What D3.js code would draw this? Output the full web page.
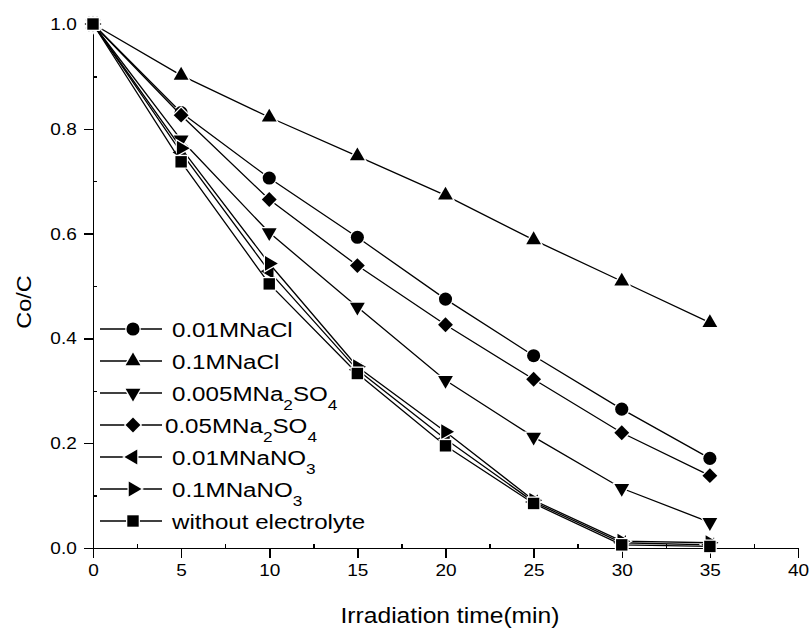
<!DOCTYPE html>
<html>
<meta charset="utf-8">
<title>Co/C vs irradiation time</title>
<style>
	body {
		margin: 0;
		background: #fff;
	}

	text {
		font-family: "Liberation Sans", Arial, sans-serif;
		fill: #000;
	}

	.axis path,
	.axis line {
		stroke: #000;
		stroke-width: 1.5;
		shape-rendering: crispEdges;
	}

	.series {
		fill: none;
		stroke: #000;
		stroke-width: 1.3;
	}

	/* white halo round the symbols gives the little gaps Origin leaves */
	.marker {
		fill: #000;
		stroke: #fff;
		stroke-width: 2.5;
		paint-order: stroke;
	}
</style>

<body>
	<svg id="chart" width="811" height="628"></svg>

	<script src="https://cdnjs.cloudflare.com/ajax/libs/d3/7.8.5/d3.min.js"></script>
	<script>
		// irradiation time (min)
		var times = [0, 5, 10, 15, 20, 25, 30, 35];

		// Co/C
		var nacl001 = [1.0, 0.831, 0.706, 0.593, 0.475, 0.367, 0.265, 0.171];
		var nacl01 = [1.0, 0.902, 0.822, 0.748, 0.673, 0.588, 0.509, 0.430];
		var na2so4005 = [1.0, 0.779, 0.602, 0.460, 0.320, 0.212, 0.114, 0.049];
		var na2so405 = [1.0, 0.826, 0.665, 0.539, 0.426, 0.322, 0.220, 0.138];
		var nano3001 = [1.0, 0.755, 0.528, 0.340, 0.208, 0.088, 0.010, 0.006];
		var nano301 = [1.0, 0.763, 0.543, 0.346, 0.222, 0.091, 0.013, 0.010];
		var noElectrolyte = [1.0, 0.737, 0.504, 0.333, 0.195, 0.085, 0.006, 0.003];

		// "_x" = subscript character
		var names = ["0.01MNaCl", "0.1MNaCl", "0.005MNa_2SO_4", "0.05MNa_2SO_4",
			"0.01MNaNO_3", "0.1MNaNO_3", "without electrolyte"];
		var symbols = ["circle", "up", "down", "diamond", "left", "right", "square"];

		var xTicks = [0, 5, 10, 15, 20, 25, 30, 35, 40];
		var yTicks = [0.0, 0.2, 0.4, 0.6, 0.8, 1.0];

		var series = [nacl001, nacl01, na2so4005, na2so405, nano3001, nano301, noElectrolyte];

		var margin = { top: 24, right: 13, bottom: 80, left: 93 },
			width = 811 - margin.left - margin.right,
			height = 628 - margin.top - margin.bottom,
			stretch = 1.12; // the original's lettering is a bit wide

		var svg = d3.select("#chart");
		var g = svg.append("g")
			.attr("transform", "translate(" + margin.left + "," + margin.top + ")");

		var x = d3.scaleLinear().domain([0, 40]).range([0, width]);
		var y = d3.scaleLinear().domain([0, 1]).range([height, 0]);

		function symbolPath(kind) {
			var rot = 0, type = d3.symbolTriangle, size = 95;
			if (kind === "circle") { type = d3.symbolCircle; size = 135; }
			if (kind === "square") { type = d3.symbolSquare; size = 130; }
			if (kind === "diamond") { type = d3.symbolSquare; size = 110; rot = 45; }
			if (kind === "down") rot = 180;
			if (kind === "left") rot = -90;
			if (kind === "right") rot = 90;
			return { d: d3.symbol().type(type).size(size)(), rot: rot };
		}

		/* ---- axes ---- */

		g.append("g").attr("class", "axis")
			.call(d3.axisLeft(y).tickValues(yTicks).tickFormat(d3.format(".1f"))
				.tickSize(9).tickSizeOuter(0).tickPadding(5.5));

		g.append("g").attr("class", "axis")
			.call(d3.axisLeft(y).tickValues([0.1, 0.3, 0.5, 0.7, 0.9]).tickFormat("")
				.tickSize(-4).tickSizeOuter(0))
			.select(".domain").remove();

		g.append("g").attr("class", "axis")
			.attr("transform", "translate(0," + height + ")")
			.call(d3.axisBottom(x).tickValues(xTicks).tickFormat(d3.format("d"))
				.tickSize(10).tickSizeOuter(0).tickPadding(6));

		g.append("g").attr("class", "axis")
			.attr("transform", "translate(0," + height + ")")
			.call(d3.axisBottom(x).tickValues(xTicks.slice(0, -1).map(function (d) { return d + 2.5; }))
				.tickFormat("").tickSize(-4).tickSizeOuter(0))
			.select(".domain").remove();

		g.selectAll(".axis text")
			.attr("font-family", null)
			.attr("font-size", 17)
			.attr("transform", "scale(" + stretch + ",1)");

		g.append("text")
			.attr("text-anchor", "middle")
			.attr("font-size", 22)
			.attr("transform", "translate(" + (450 - margin.left) + "," + (height + 75) + ") scale(" + stretch + ",1)")
			.text("Irradiation time(min)");

		g.append("text")
			.attr("text-anchor", "middle")
			.attr("font-size", 21)
			.attr("transform", "translate(" + (31 - margin.left) + "," + (302 - margin.top) + ") rotate(-90) scale(" + stretch + ",1)")
			.text("Co/C");

		/* ---- data ---- */

		var line = d3.line()
			.x(function (d, i) { return x(times[i]); })
			.y(function (d) { return y(d); });

		series.forEach(function (vals, s) {
			var sym = symbolPath(symbols[s]);
			var sg = g.append("g");
			sg.append("path").attr("class", "series").attr("d", line(vals));
			sg.selectAll(".marker")
				.data(vals)
				.enter().append("path")
				.attr("class", "marker")
				.attr("d", sym.d)
				.attr("transform", function (d, i) {
					return "translate(" + x(times[i]) + "," + y(d) + ") rotate(" + sym.rot + ")";
				});
		});

		/* ---- legend ---- */

		var legend = g.append("g")
			.attr("transform", "translate(" + (100 - margin.left) + "," + (329 - margin.top) + ")");

		names.forEach(function (name, i) {
			var row = legend.append("g").attr("transform", "translate(0," + (i * 32) + ")");
			var sym = symbolPath(symbols[i]);
			row.append("line").attr("x1", 0).attr("x2", 62)
				.attr("stroke", "#000").attr("stroke-width", 1.3);
			row.append("path").attr("class", "marker").attr("d", sym.d)
				.attr("transform", "translate(33,0) rotate(" + sym.rot + ")");

			// the 0.05MNa2SO4 entry sits a little to the left in the original
			var tx = i === 3 ? 65 : 72;
			var t = row.append("text")
				.attr("font-size", 21)
				.attr("transform", "translate(" + tx + ",7.5) scale(" + 1.15 + ",1)");
			var low = false;
			name.split(/(_\d)/).forEach(function (part) {
				if (!part) return;
				if (part[0] === "_") {
					t.append("tspan").attr("font-size", 15).attr("dy", 9).text(part.slice(1));
					low = true;
				} else {
					t.append("tspan").attr("dy", low ? -9 : 0).text(part);
					low = false;
				}
			});
		});
	</script>
</body>

</html>
